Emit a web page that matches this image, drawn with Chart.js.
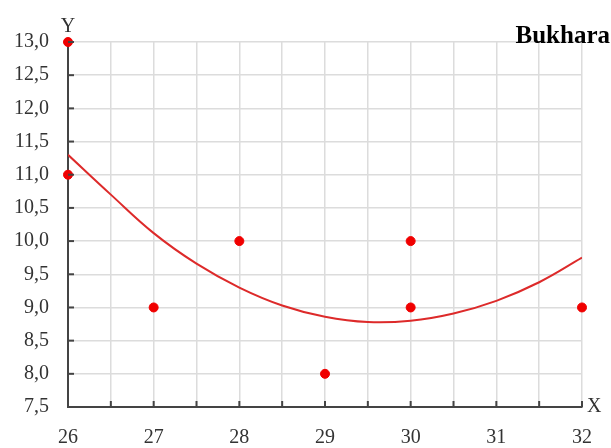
<!DOCTYPE html>
<html>
<head>
<meta charset="utf-8">
<script src="https://cdn.jsdelivr.net/npm/chart.js@4.4.0/dist/chart.umd.min.js"></script>
<style>
  html, body { margin: 0; padding: 0; background: #fff; }
  #wrap { width: 611px; height: 448px; position: relative; }
</style>
</head>
<body>
<div id="wrap"><canvas id="chart-scatter"></canvas></div>
<script>
// observed points
var pointX = [26, 26, 27, 28, 29, 30, 30, 32];
var pointY = [13, 11, 9, 10, 8, 10, 9, 9];

// fitted curve, every half unit
var curveX = [26, 26.5, 27, 27.5, 28, 28.5, 29, 29.5, 30, 30.5, 31, 31.5, 32];
var curveY = [11.3, 10.7, 10.12, 9.66, 9.3, 9.03, 8.86, 8.78, 8.8, 8.91, 9.1, 9.38, 9.75];

var xTicks = [26, 27, 28, 29, 30, 31, 32];
var yTicks = ["7,5", "8,0", "8,5", "9,0", "9,5", "10,0", "10,5", "11,0", "11,5", "12,0", "12,5", "13,0"];

var serif = "'Liberation Serif', 'Times New Roman', serif";

// small inner tick marks, axis letters and the title
var decor = {
  id: "decor",
  afterDraw: function (chart) {
    var c = chart.ctx;
    var xs = chart.scales.x;
    var ys = chart.scales.y;
    var a = chart.chartArea;
    c.save();
    c.strokeStyle = "#444";
    c.lineWidth = 2;
    for (var v = 26.5; v <= 32; v += 0.5) {
      var px = xs.getPixelForValue(v);
      c.beginPath();
      c.moveTo(px, a.bottom);
      c.lineTo(px, a.bottom - 6);
      c.stroke();
    }
    for (var w = 8; w <= 13; w += 0.5) {
      var py = ys.getPixelForValue(w);
      c.beginPath();
      c.moveTo(a.left, py);
      c.lineTo(a.left + 6, py);
      c.stroke();
    }
    c.fillStyle = "#333";
    c.font = "20px " + serif;
    c.textAlign = "center";
    c.textBaseline = "bottom";
    c.fillText("Y", a.left, a.top - 5);
    c.textAlign = "left";
    c.textBaseline = "middle";
    c.fillText("X", a.right + 5, a.bottom);
    c.fillStyle = "#000";
    c.font = "bold 25px " + serif;
    c.textAlign = "right";
    c.textBaseline = "middle";
    c.fillText("Bukhara", 610, 37);
    c.restore();
  },
};

var ctx = document.getElementById("chart-scatter").getContext("2d");
new Chart(ctx, {
  type: "scatter",
  data: {
    datasets: [
      {
        label: "points",
        data: pointX.map(function (x, i) { return { x: x, y: pointY[i] }; }),
        backgroundColor: "#f00000",
        borderColor: "#f00000",
        pointRadius: 4.5,
        clip: false,
      },
      {
        label: "curve",
        data: curveX.map(function (x, i) { return { x: x, y: curveY[i] }; }),
        showLine: true,
        borderColor: "#dd2a2a",
        borderWidth: 2,
        pointRadius: 0,
        tension: 0.4,
      },
    ],
  },
  options: {
    responsive: true,
    maintainAspectRatio: false,
    animation: false,
    layout: {
      padding: { top: 42, right: 25, left: 0, bottom: 0 },
    },
    plugins: {
      legend: { display: false },
      tooltip: { enabled: false },
    },
    scales: {
      x: {
        type: "linear",
        min: 26,
        max: 32,
        afterFit: function (s) { s.height = 41; },
        afterBuildTicks: function (s) {
          var t = [];
          for (var v = 26; v <= 32; v += 0.5) t.push({ value: v });
          s.ticks = t;
        },
        grid: { color: "#dcdcdc", lineWidth: 1.5, drawTicks: false },
        border: { color: "#444", width: 2 },
        ticks: {
          color: "#333",
          padding: 19,
          autoSkip: false,
          maxRotation: 0,
          font: { size: 20, family: serif },
          callback: function (v) {
            return xTicks.indexOf(v) > -1 ? String(v) : "";
          },
        },
      },
      y: {
        type: "linear",
        min: 7.5,
        max: 13,
        afterFit: function (s) { s.width = 68; },
        afterBuildTicks: function (s) {
          s.ticks = yTicks.map(function (t) {
            return { value: parseFloat(t.replace(",", ".")) };
          });
        },
        grid: { color: "#dcdcdc", lineWidth: 1.5, drawTicks: false },
        border: { color: "#444", width: 2 },
        ticks: {
          color: "#333",
          padding: 19,
          font: { size: 20, family: serif },
          callback: function (v) {
            return yTicks[Math.round((v - 7.5) * 2)];
          },
        },
      },
    },
  },
  plugins: [decor],
});
</script>
</body>
</html>
